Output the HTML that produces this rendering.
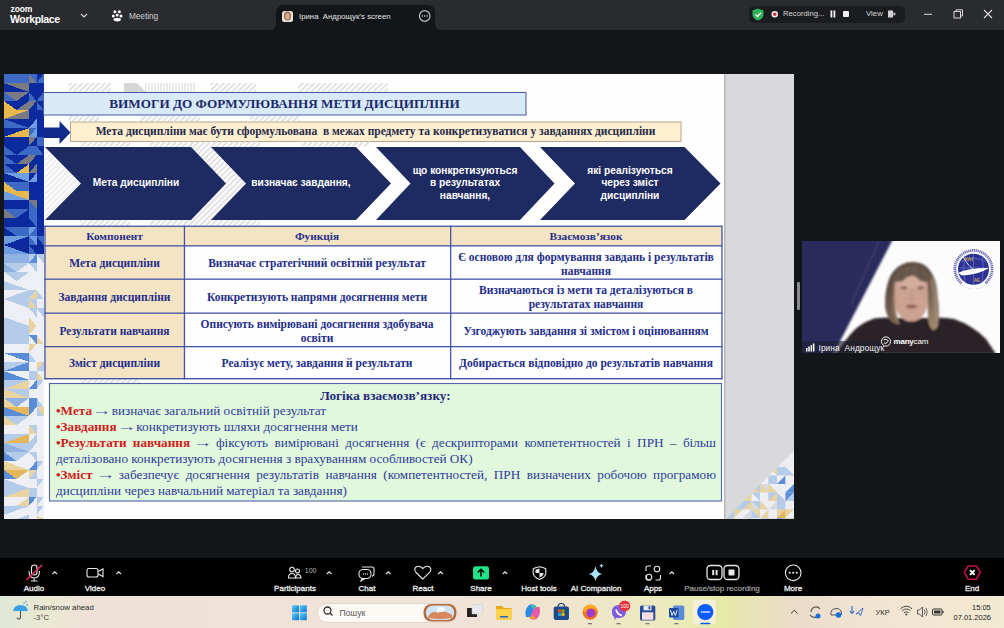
<!DOCTYPE html>
<html><head><meta charset="utf-8">
<style>
*{margin:0;padding:0;box-sizing:border-box}
html,body{width:1004px;height:628px;overflow:hidden;background:#131619;font-family:"Liberation Sans",sans-serif;position:relative}
.a{position:absolute;white-space:nowrap}
.sr{font-family:"Liberation Serif",serif}
.c{text-align:center}
.ar{display:inline-block;transform:scaleX(1.45);font-weight:bold}
.tb{color:#f0f0f0;font-weight:normal;font-size:8px;text-align:center;-webkit-text-stroke:0.3px #e8e8e8}
</style></head><body>
<!-- top bar -->
<div class="a" style="left:0;top:0;width:1004px;height:30px;background:#2a2b2e"></div>
<div class="a" style="left:270px;top:24px;width:6px;height:6px;background:#131619"></div>
<div class="a" style="left:270px;top:24px;width:6px;height:6px;background:#2a2b2e;border-bottom-right-radius:6px"></div>
<div class="a" style="left:435px;top:24px;width:6px;height:6px;background:#131619"></div>
<div class="a" style="left:435px;top:24px;width:6px;height:6px;background:#2a2b2e;border-bottom-left-radius:6px"></div>
<div class="a" style="left:276px;top:5px;width:159px;height:25px;background:#131619;border-radius:7px 7px 0 0"></div>
<div class="a" style="left:10.5px;top:4.8px;font-size:8.5px;color:#fff;line-height:8.5px;font-weight:bold;letter-spacing:-0.1px">zoom</div>
<div class="a" style="left:10px;top:12.6px;font-size:10.5px;color:#fff;line-height:13px;font-weight:bold;letter-spacing:-0.35px">Workplace</div>
<div class="a" style="left:129px;top:12px;font-size:8.2px;color:#cfd0d2;line-height:10px">Meeting</div>
<div class="a" style="left:299px;top:11.5px;font-size:7.8px;color:#e4e4e6;line-height:10px">Ірина&nbsp; Андрощук’s screen</div>
<div class="a" style="left:749px;top:6px;width:156px;height:17px;background:#1a1c1f;border-radius:5px"></div>
<div class="a" style="left:783px;top:9px;font-size:7.7px;color:#d6d6d8;line-height:10px">Recording...</div>
<div class="a" style="left:866px;top:9px;font-size:7.8px;color:#d6d6d8;line-height:10px">View</div>
<svg class="a" style="left:0;top:0" width="1004" height="29">
  <!-- chevron -->
  <path d="M81 14 L84 17 L87 14" stroke="#d8d8d8" stroke-width="1.1" fill="none"/>
  <!-- meeting paw icon -->
  <circle cx="114.9" cy="11.7" r="1.5" fill="#fff"/><circle cx="119.4" cy="11.7" r="1.5" fill="#fff"/>
  <circle cx="113.3" cy="16" r="1.5" fill="#fff"/><circle cx="117.2" cy="14.9" r="1.5" fill="#fff"/><circle cx="121" cy="16" r="1.5" fill="#fff"/>
  <ellipse cx="117.2" cy="19.6" rx="3.7" ry="1.8" fill="#fff"/>
  <!-- avatar -->
  <rect x="282" y="11" width="11" height="11" rx="2.5" fill="#e8e4e0"/>
  <ellipse cx="287.5" cy="16" rx="3.6" ry="4.5" fill="#9a6a50"/>
  <ellipse cx="287.5" cy="16.3" rx="2.3" ry="3.2" fill="#d8a890"/>
  <!-- ellipsis circle -->
  <circle cx="424.7" cy="16" r="5.3" stroke="#bdbdbd" stroke-width="1.2" fill="none"/>
  <circle cx="422.3" cy="16" r="0.8" fill="#ccc"/><circle cx="424.7" cy="16" r="0.8" fill="#ccc"/><circle cx="427.1" cy="16" r="0.8" fill="#ccc"/>
  <!-- green shield -->
  <path d="M758 8.5 L763.5 10.5 L763.5 14.5 Q763.5 18.5 758 20.5 Q752.5 18.5 752.5 14.5 L752.5 10.5 Z" fill="#2fb35a"/>
  <path d="M755.5 14.5 L757.5 16.5 L761 12.8" stroke="#fff" stroke-width="1.3" fill="none"/>
  <!-- rec dot -->
  <circle cx="774.7" cy="14.2" r="3.2" fill="#f2f2f2"/><circle cx="774.7" cy="14.2" r="1.7" fill="#e0243a"/>
  <rect x="830.5" y="10.5" width="1.8" height="7" fill="#f0f0f0"/><rect x="833.5" y="10.5" width="1.8" height="7" fill="#f0f0f0"/>
  <rect x="843" y="11" width="6" height="6" rx="1" fill="#f0f0f0"/>
  <!-- view icon -->
  <rect x="888" y="10.5" width="5" height="7" fill="#d0d0d0"/><path d="M893.5 12 L896 14 L893.5 16 Z" fill="#d0d0d0"/>
  <!-- window controls -->
  <rect x="924" y="13.8" width="8" height="1" fill="#d8d8d8"/>
  <rect x="954" y="11.5" width="6.5" height="6.5" stroke="#d8d8d8" stroke-width="1" fill="none"/>
  <path d="M956 11.5 V9.8 H962.5 V16 H960.5" stroke="#d8d8d8" stroke-width="1" fill="none"/>
  <path d="M984 10 L992 18 M992 10 L984 18" stroke="#d8d8d8" stroke-width="1.1"/>
</svg>

<!-- slide -->
<svg class="a" style="left:0;top:0" width="1004" height="628">
  <defs><clipPath id="brc"><polygon points="726,519 794,450.7 794,519"/></clipPath>
  <pattern id="hatch" width="4" height="4" patternUnits="userSpaceOnUse" patternTransform="rotate(45)"><rect width="2" height="4" fill="#e2e2e6"/></pattern></defs>
  <rect x="4" y="74" width="790" height="445" fill="#fefefe"/>
  <rect x="724" y="74" width="70" height="445" fill="#d9d9dc"/>
  <rect x="724" y="74" width="1.5" height="445" fill="#b8b8bb"/>
  <rect x="4" y="74" width="39.5" height="182" fill="#0b2a9e"/>
  <rect x="4" y="256" width="39.5" height="263" fill="#eeeff4"/>
  <g shape-rendering="crispEdges"><polygon points="4,74 29,74 4,83" fill="#3b69c4"/><polygon points="29,74 29,83 4,83" fill="#3b69c4"/>
<polygon points="29,74 36.5,74 36.5,83" fill="#3b69c4"/><polygon points="29,74 36.5,83 29,83" fill="#7a7a84"/>
<polygon points="36.5,74 43.5,74 36.5,83" fill="#0b2a9e"/><polygon points="43.5,74 43.5,83 36.5,83" fill="#3b69c4"/>
<polygon points="4,83 29,83 29,92" fill="#7a7a84"/><polygon points="4,83 29,92 4,92" fill="#0b2a9e"/>
<polygon points="29,83 36.5,83 29,92" fill="#0b2a9e"/><polygon points="36.5,83 36.5,92 29,92" fill="#0b2a9e"/>
<polygon points="36.5,83 43.5,83 43.5,92" fill="#0b2a9e"/><polygon points="36.5,83 43.5,92 36.5,92" fill="#0b2a9e"/>
<polygon points="4,92 29,92 16.5,101" fill="#7a7a84"/><polygon points="4,92 16.5,101 4,101" fill="#3b69c4"/><polygon points="29,92 29,101 16.5,101" fill="#0b2a9e"/>
<polygon points="29,92 36.5,92 36.5,101" fill="#0b2a9e"/><polygon points="29,92 36.5,101 29,101" fill="#3b69c4"/>
<polygon points="36.5,92 43.5,92 36.5,101" fill="#0b2a9e"/><polygon points="43.5,92 43.5,101 36.5,101" fill="#3b69c4"/>
<polygon points="4,101 29,101 16.5,110" fill="#0b2a9e"/><polygon points="4,101 16.5,110 4,110" fill="#e6b84e"/><polygon points="29,101 29,110 16.5,110" fill="#7a7a84"/>
<polygon points="29,101 36.5,101 29,110" fill="#7a7a84"/><polygon points="36.5,101 36.5,110 29,110" fill="#0b2a9e"/>
<polygon points="36.5,101 43.5,101 43.5,110" fill="#0b2a9e"/><polygon points="36.5,101 43.5,110 36.5,110" fill="#3b69c4"/>
<polygon points="4,110 29,110 4,119" fill="#e6b84e"/><polygon points="29,110 29,119 4,119" fill="#7a7a84"/>
<polygon points="29,110 36.5,110 29,119" fill="#0b2a9e"/><polygon points="36.5,110 36.5,119 29,119" fill="#0b2a9e"/>
<polygon points="36.5,110 43.5,110 36.5,119" fill="#0b2a9e"/><polygon points="43.5,110 43.5,119 36.5,119" fill="#0b2a9e"/>
<polygon points="4,119 29,119 29,128" fill="#0b2a9e"/><polygon points="4,119 29,128 4,128" fill="#3b69c4"/>
<polygon points="29,119 36.5,119 29,128" fill="#0b2a9e"/><polygon points="36.5,119 36.5,128 29,128" fill="#6e9ee0"/>
<polygon points="36.5,119 43.5,119 36.5,128" fill="#0b2a9e"/><polygon points="43.5,119 43.5,128 36.5,128" fill="#0b2a9e"/>
<polygon points="4,128 29,128 4,137" fill="#0b2a9e"/><polygon points="29,128 29,137 4,137" fill="#e6b84e"/>
<polygon points="29,128 36.5,128 29,137" fill="#3b69c4"/><polygon points="36.5,128 36.5,137 29,137" fill="#6e9ee0"/>
<polygon points="36.5,128 43.5,128 36.5,137" fill="#0b2a9e"/><polygon points="43.5,128 43.5,137 36.5,137" fill="#0b2a9e"/>
<polygon points="4,137 29,137 29,146" fill="#0b2a9e"/><polygon points="4,137 29,146 4,146" fill="#0b2a9e"/>
<polygon points="29,137 36.5,137 29,146" fill="#7a7a84"/><polygon points="36.5,137 36.5,146 29,146" fill="#0b2a9e"/>
<polygon points="36.5,137 43.5,137 43.5,146" fill="#3b69c4"/><polygon points="36.5,137 43.5,146 36.5,146" fill="#3b69c4"/>
<polygon points="4,146 29,146 16.5,155" fill="#0b2a9e"/><polygon points="4,146 16.5,155 4,155" fill="#3b69c4"/><polygon points="29,146 29,155 16.5,155" fill="#3b69c4"/>
<polygon points="29,146 36.5,146 29,155" fill="#3b69c4"/><polygon points="36.5,146 36.5,155 29,155" fill="#3b69c4"/>
<polygon points="36.5,146 43.5,146 43.5,155" fill="#0b2a9e"/><polygon points="36.5,146 43.5,155 36.5,155" fill="#3b69c4"/>
<polygon points="4,155 29,155 16.5,164" fill="#0b2a9e"/><polygon points="4,155 16.5,164 4,164" fill="#3b69c4"/><polygon points="29,155 29,164 16.5,164" fill="#7a7a84"/>
<polygon points="29,155 36.5,155 29,164" fill="#7a7a84"/><polygon points="36.5,155 36.5,164 29,164" fill="#0b2a9e"/>
<polygon points="36.5,155 43.5,155 36.5,164" fill="#0b2a9e"/><polygon points="43.5,155 43.5,164 36.5,164" fill="#0b2a9e"/>
<polygon points="4,164 29,164 16.5,173" fill="#0b2a9e"/><polygon points="4,164 16.5,173 4,173" fill="#3b69c4"/><polygon points="29,164 29,173 16.5,173" fill="#e6b84e"/>
<polygon points="29,164 36.5,164 29,173" fill="#0b2a9e"/><polygon points="36.5,164 36.5,173 29,173" fill="#7a7a84"/>
<polygon points="36.5,164 43.5,164 43.5,173" fill="#0b2a9e"/><polygon points="36.5,164 43.5,173 36.5,173" fill="#0b2a9e"/>
<polygon points="4,173 29,173 29,182" fill="#6e9ee0"/><polygon points="4,173 29,182 4,182" fill="#0b2a9e"/>
<polygon points="29,173 36.5,173 29,182" fill="#0b2a9e"/><polygon points="36.5,173 36.5,182 29,182" fill="#6e9ee0"/>
<polygon points="36.5,173 43.5,173 36.5,182" fill="#0b2a9e"/><polygon points="43.5,173 43.5,182 36.5,182" fill="#0b2a9e"/>
<polygon points="4,182 29,182 16.5,191" fill="#3b69c4"/><polygon points="4,182 16.5,191 4,191" fill="#e6b84e"/><polygon points="29,182 29,191 16.5,191" fill="#3b69c4"/>
<polygon points="29,182 36.5,182 36.5,191" fill="#0b2a9e"/><polygon points="29,182 36.5,191 29,191" fill="#0b2a9e"/>
<polygon points="36.5,182 43.5,182 36.5,191" fill="#0b2a9e"/><polygon points="43.5,182 43.5,191 36.5,191" fill="#0b2a9e"/>
<polygon points="4,191 29,191 29,200" fill="#e6b84e"/><polygon points="4,191 29,200 4,200" fill="#6e9ee0"/>
<polygon points="29,191 36.5,191 36.5,200" fill="#0b2a9e"/><polygon points="29,191 36.5,200 29,200" fill="#0b2a9e"/>
<polygon points="36.5,191 43.5,191 43.5,200" fill="#0b2a9e"/><polygon points="36.5,191 43.5,200 36.5,200" fill="#0b2a9e"/>
<polygon points="4,200 29,200 4,209" fill="#0b2a9e"/><polygon points="29,200 29,209 4,209" fill="#0b2a9e"/>
<polygon points="29,200 36.5,200 36.5,209" fill="#7a7a84"/><polygon points="29,200 36.5,209 29,209" fill="#3b69c4"/>
<polygon points="36.5,200 43.5,200 36.5,209" fill="#0b2a9e"/><polygon points="43.5,200 43.5,209 36.5,209" fill="#0b2a9e"/>
<polygon points="4,209 29,209 16.5,218" fill="#3b69c4"/><polygon points="4,209 16.5,218 4,218" fill="#7a7a84"/><polygon points="29,209 29,218 16.5,218" fill="#0b2a9e"/>
<polygon points="29,209 36.5,209 36.5,218" fill="#3b69c4"/><polygon points="29,209 36.5,218 29,218" fill="#3b69c4"/>
<polygon points="36.5,209 43.5,209 43.5,218" fill="#0b2a9e"/><polygon points="36.5,209 43.5,218 36.5,218" fill="#0b2a9e"/>
<polygon points="4,218 29,218 4,227" fill="#0b2a9e"/><polygon points="29,218 29,227 4,227" fill="#0b2a9e"/>
<polygon points="29,218 36.5,218 36.5,227" fill="#3b69c4"/><polygon points="29,218 36.5,227 29,227" fill="#0b2a9e"/>
<polygon points="36.5,218 43.5,218 43.5,227" fill="#0b2a9e"/><polygon points="36.5,218 43.5,227 36.5,227" fill="#0b2a9e"/>
<polygon points="4,227 29,227 16.5,236" fill="#3b69c4"/><polygon points="4,227 16.5,236 4,236" fill="#0b2a9e"/><polygon points="29,227 29,236 16.5,236" fill="#3b69c4"/>
<polygon points="29,227 36.5,227 29,236" fill="#6e9ee0"/><polygon points="36.5,227 36.5,236 29,236" fill="#3b69c4"/>
<polygon points="36.5,227 43.5,227 43.5,236" fill="#0b2a9e"/><polygon points="36.5,227 43.5,236 36.5,236" fill="#0b2a9e"/>
<polygon points="4,236 29,236 4,245" fill="#6e9ee0"/><polygon points="29,236 29,245 4,245" fill="#0b2a9e"/>
<polygon points="29,236 36.5,236 36.5,245" fill="#6e9ee0"/><polygon points="29,236 36.5,245 29,245" fill="#3b69c4"/>
<polygon points="36.5,236 43.5,236 43.5,245" fill="#3b69c4"/><polygon points="36.5,236 43.5,245 36.5,245" fill="#0b2a9e"/>
<polygon points="4,245 29,245 29,254" fill="#0b2a9e"/><polygon points="4,245 29,254 4,254" fill="#6e9ee0"/>
<polygon points="29,245 36.5,245 36.5,254" fill="#0b2a9e"/><polygon points="29,245 36.5,254 29,254" fill="#3b69c4"/>
<polygon points="36.5,245 43.5,245 43.5,254" fill="#0b2a9e"/><polygon points="36.5,245 43.5,254 36.5,254" fill="#0b2a9e"/>
<polygon points="4,254 29,254 4,263" fill="#8fb2e3"/><polygon points="29,254 29,263 4,263" fill="#8fb2e3"/>
<polygon points="29,254 36.5,254 29,263" fill="#b4cbea"/><polygon points="36.5,254 36.5,263 29,263" fill="#5a8dd8"/>
<polygon points="36.5,254 43.5,254 43.5,263" fill="#b4cbea"/><polygon points="36.5,254 43.5,263 36.5,263" fill="#eeeff4"/>
<polygon points="4,263 29,263 16.5,272" fill="#b4cbea"/><polygon points="4,263 16.5,272 4,272" fill="#8fb2e3"/><polygon points="29,263 29,272 16.5,272" fill="#eeeff4"/>
<polygon points="29,263 36.5,263 36.5,272" fill="#b4cbea"/><polygon points="29,263 36.5,272 29,272" fill="#eeeff4"/>
<polygon points="36.5,263 43.5,263 36.5,272" fill="#eeeff4"/><polygon points="43.5,263 43.5,272 36.5,272" fill="#eeeff4"/>
<polygon points="4,272 29,272 16.5,281" fill="#b4cbea"/><polygon points="4,272 16.5,281 4,281" fill="#eeeff4"/><polygon points="29,272 29,281 16.5,281" fill="#eeeff4"/>
<polygon points="29,272 36.5,272 29,281" fill="#eeeff4"/><polygon points="36.5,272 36.5,281 29,281" fill="#eeeff4"/>
<polygon points="36.5,272 43.5,272 43.5,281" fill="#eeeff4"/><polygon points="36.5,272 43.5,281 36.5,281" fill="#eeeff4"/>
<polygon points="4,281 29,281 29,290" fill="#eeeff4"/><polygon points="4,281 29,290 4,290" fill="#b4cbea"/>
<polygon points="29,281 36.5,281 29,290" fill="#eeeff4"/><polygon points="36.5,281 36.5,290 29,290" fill="#eeeff4"/>
<polygon points="36.5,281 43.5,281 43.5,290" fill="#eeeff4"/><polygon points="36.5,281 43.5,290 36.5,290" fill="#eeeff4"/>
<polygon points="4,290 29,290 4,299" fill="#eeeff4"/><polygon points="29,290 29,299 4,299" fill="#b4cbea"/>
<polygon points="29,290 36.5,290 29,299" fill="#b4cbea"/><polygon points="36.5,290 36.5,299 29,299" fill="#e9d39e"/>
<polygon points="36.5,290 43.5,290 43.5,299" fill="#eeeff4"/><polygon points="36.5,290 43.5,299 36.5,299" fill="#b4cbea"/>
<polygon points="4,299 29,299 29,308" fill="#b4cbea"/><polygon points="4,299 29,308 4,308" fill="#eeeff4"/>
<polygon points="29,299 36.5,299 36.5,308" fill="#b4cbea"/><polygon points="29,299 36.5,308 29,308" fill="#e9d39e"/>
<polygon points="36.5,299 43.5,299 43.5,308" fill="#eeeff4"/><polygon points="36.5,299 43.5,308 36.5,308" fill="#eeeff4"/>
<polygon points="4,308 29,308 4,317" fill="#eeeff4"/><polygon points="29,308 29,317 4,317" fill="#eeeff4"/>
<polygon points="29,308 36.5,308 36.5,317" fill="#b4cbea"/><polygon points="29,308 36.5,317 29,317" fill="#eeeff4"/>
<polygon points="36.5,308 43.5,308 43.5,317" fill="#b4cbea"/><polygon points="36.5,308 43.5,317 36.5,317" fill="#eeeff4"/>
<polygon points="4,317 29,317 29,326" fill="#eeeff4"/><polygon points="4,317 29,326 4,326" fill="#b4cbea"/>
<polygon points="29,317 36.5,317 36.5,326" fill="#eeeff4"/><polygon points="29,317 36.5,326 29,326" fill="#e9d39e"/>
<polygon points="36.5,317 43.5,317 43.5,326" fill="#eeeff4"/><polygon points="36.5,317 43.5,326 36.5,326" fill="#eeeff4"/>
<polygon points="4,326 29,326 4,335" fill="#b4cbea"/><polygon points="29,326 29,335 4,335" fill="#b4cbea"/>
<polygon points="29,326 36.5,326 29,335" fill="#e9d39e"/><polygon points="36.5,326 36.5,335 29,335" fill="#eeeff4"/>
<polygon points="36.5,326 43.5,326 36.5,335" fill="#eeeff4"/><polygon points="43.5,326 43.5,335 36.5,335" fill="#eeeff4"/>
<polygon points="4,335 29,335 29,344" fill="#b4cbea"/><polygon points="4,335 29,344 4,344" fill="#b4cbea"/>
<polygon points="29,335 36.5,335 36.5,344" fill="#5a8dd8"/><polygon points="29,335 36.5,344 29,344" fill="#eeeff4"/>
<polygon points="36.5,335 43.5,335 43.5,344" fill="#eeeff4"/><polygon points="36.5,335 43.5,344 36.5,344" fill="#e9d39e"/>
<polygon points="4,344 29,344 4,353" fill="#eeeff4"/><polygon points="29,344 29,353 4,353" fill="#eeeff4"/>
<polygon points="29,344 36.5,344 29,353" fill="#e9d39e"/><polygon points="36.5,344 36.5,353 29,353" fill="#eeeff4"/>
<polygon points="36.5,344 43.5,344 43.5,353" fill="#eeeff4"/><polygon points="36.5,344 43.5,353 36.5,353" fill="#eeeff4"/>
<polygon points="4,353 29,353 29,362" fill="#5a8dd8"/><polygon points="4,353 29,362 4,362" fill="#eeeff4"/>
<polygon points="29,353 36.5,353 36.5,362" fill="#eeeff4"/><polygon points="29,353 36.5,362 29,362" fill="#b4cbea"/>
<polygon points="36.5,353 43.5,353 36.5,362" fill="#eeeff4"/><polygon points="43.5,353 43.5,362 36.5,362" fill="#eeeff4"/>
<polygon points="4,362 29,362 4,371" fill="#b4cbea"/><polygon points="29,362 29,371 4,371" fill="#5a8dd8"/>
<polygon points="29,362 36.5,362 36.5,371" fill="#eeeff4"/><polygon points="29,362 36.5,371 29,371" fill="#eeeff4"/>
<polygon points="36.5,362 43.5,362 36.5,371" fill="#e9d39e"/><polygon points="43.5,362 43.5,371 36.5,371" fill="#b4cbea"/>
<polygon points="4,371 29,371 29,380" fill="#eeeff4"/><polygon points="4,371 29,380 4,380" fill="#5a8dd8"/>
<polygon points="29,371 36.5,371 29,380" fill="#b4cbea"/><polygon points="36.5,371 36.5,380 29,380" fill="#b4cbea"/>
<polygon points="36.5,371 43.5,371 43.5,380" fill="#eeeff4"/><polygon points="36.5,371 43.5,380 36.5,380" fill="#e9d39e"/>
<polygon points="4,380 29,380 4,389" fill="#b4cbea"/><polygon points="29,380 29,389 4,389" fill="#e9d39e"/>
<polygon points="29,380 36.5,380 29,389" fill="#eeeff4"/><polygon points="36.5,380 36.5,389 29,389" fill="#5a8dd8"/>
<polygon points="36.5,380 43.5,380 36.5,389" fill="#b4cbea"/><polygon points="43.5,380 43.5,389 36.5,389" fill="#eeeff4"/>
<polygon points="4,389 29,389 29,398" fill="#b4cbea"/><polygon points="4,389 29,398 4,398" fill="#e9d39e"/>
<polygon points="29,389 36.5,389 36.5,398" fill="#eeeff4"/><polygon points="29,389 36.5,398 29,398" fill="#eeeff4"/>
<polygon points="36.5,389 43.5,389 43.5,398" fill="#eeeff4"/><polygon points="36.5,389 43.5,398 36.5,398" fill="#eeeff4"/>
<polygon points="4,398 29,398 16.5,407" fill="#8fb2e3"/><polygon points="4,398 16.5,407 4,407" fill="#e9d39e"/><polygon points="29,398 29,407 16.5,407" fill="#eeeff4"/>
<polygon points="29,398 36.5,398 29,407" fill="#5a8dd8"/><polygon points="36.5,398 36.5,407 29,407" fill="#5a8dd8"/>
<polygon points="36.5,398 43.5,398 43.5,407" fill="#eeeff4"/><polygon points="36.5,398 43.5,407 36.5,407" fill="#b4cbea"/>
<polygon points="4,407 29,407 29,416" fill="#e6b65a"/><polygon points="4,407 29,416 4,416" fill="#5a8dd8"/>
<polygon points="29,407 36.5,407 29,416" fill="#5a8dd8"/><polygon points="36.5,407 36.5,416 29,416" fill="#eeeff4"/>
<polygon points="36.5,407 43.5,407 43.5,416" fill="#e9d39e"/><polygon points="36.5,407 43.5,416 36.5,416" fill="#b4cbea"/>
<polygon points="4,416 29,416 16.5,425" fill="#b4cbea"/><polygon points="4,416 16.5,425 4,425" fill="#e9d39e"/><polygon points="29,416 29,425 16.5,425" fill="#eeeff4"/>
<polygon points="29,416 36.5,416 36.5,425" fill="#eeeff4"/><polygon points="29,416 36.5,425 29,425" fill="#eeeff4"/>
<polygon points="36.5,416 43.5,416 43.5,425" fill="#eeeff4"/><polygon points="36.5,416 43.5,425 36.5,425" fill="#eeeff4"/>
<polygon points="4,425 29,425 29,434" fill="#eeeff4"/><polygon points="4,425 29,434 4,434" fill="#eeeff4"/>
<polygon points="29,425 36.5,425 36.5,434" fill="#b4cbea"/><polygon points="29,425 36.5,434 29,434" fill="#e9d39e"/>
<polygon points="36.5,425 43.5,425 36.5,434" fill="#eeeff4"/><polygon points="43.5,425 43.5,434 36.5,434" fill="#eeeff4"/>
<polygon points="4,434 29,434 4,443" fill="#b4cbea"/><polygon points="29,434 29,443 4,443" fill="#e6b65a"/>
<polygon points="29,434 36.5,434 29,443" fill="#eeeff4"/><polygon points="36.5,434 36.5,443 29,443" fill="#b4cbea"/>
<polygon points="36.5,434 43.5,434 36.5,443" fill="#eeeff4"/><polygon points="43.5,434 43.5,443 36.5,443" fill="#eeeff4"/>
<polygon points="4,443 29,443 29,452" fill="#b4cbea"/><polygon points="4,443 29,452 4,452" fill="#8fb2e3"/>
<polygon points="29,443 36.5,443 29,452" fill="#b4cbea"/><polygon points="36.5,443 36.5,452 29,452" fill="#eeeff4"/>
<polygon points="36.5,443 43.5,443 43.5,452" fill="#eeeff4"/><polygon points="36.5,443 43.5,452 36.5,452" fill="#eeeff4"/>
<polygon points="4,452 29,452 16.5,461" fill="#b4cbea"/><polygon points="4,452 16.5,461 4,461" fill="#5a8dd8"/><polygon points="29,452 29,461 16.5,461" fill="#eeeff4"/>
<polygon points="29,452 36.5,452 36.5,461" fill="#b4cbea"/><polygon points="29,452 36.5,461 29,461" fill="#eeeff4"/>
<polygon points="36.5,452 43.5,452 43.5,461" fill="#eeeff4"/><polygon points="36.5,452 43.5,461 36.5,461" fill="#eeeff4"/>
<polygon points="4,461 29,461 29,470" fill="#eeeff4"/><polygon points="4,461 29,470 4,470" fill="#e9d39e"/>
<polygon points="29,461 36.5,461 29,470" fill="#eeeff4"/><polygon points="36.5,461 36.5,470 29,470" fill="#5a8dd8"/>
<polygon points="36.5,461 43.5,461 36.5,470" fill="#b4cbea"/><polygon points="43.5,461 43.5,470 36.5,470" fill="#eeeff4"/>
<polygon points="4,470 29,470 16.5,479" fill="#e6b65a"/><polygon points="4,470 16.5,479 4,479" fill="#5a8dd8"/><polygon points="29,470 29,479 16.5,479" fill="#eeeff4"/>
<polygon points="29,470 36.5,470 29,479" fill="#e9d39e"/><polygon points="36.5,470 36.5,479 29,479" fill="#b4cbea"/>
<polygon points="36.5,470 43.5,470 43.5,479" fill="#eeeff4"/><polygon points="36.5,470 43.5,479 36.5,479" fill="#eeeff4"/>
<polygon points="4,479 29,479 29,488" fill="#eeeff4"/><polygon points="4,479 29,488 4,488" fill="#b4cbea"/>
<polygon points="29,479 36.5,479 36.5,488" fill="#eeeff4"/><polygon points="29,479 36.5,488 29,488" fill="#eeeff4"/>
<polygon points="36.5,479 43.5,479 36.5,488" fill="#b4cbea"/><polygon points="43.5,479 43.5,488 36.5,488" fill="#eeeff4"/>
<polygon points="4,488 29,488 4,497" fill="#b4cbea"/><polygon points="29,488 29,497 4,497" fill="#e9d39e"/>
<polygon points="29,488 36.5,488 36.5,497" fill="#b4cbea"/><polygon points="29,488 36.5,497 29,497" fill="#b4cbea"/>
<polygon points="36.5,488 43.5,488 43.5,497" fill="#eeeff4"/><polygon points="36.5,488 43.5,497 36.5,497" fill="#eeeff4"/>
<polygon points="4,497 29,497 16.5,506" fill="#eeeff4"/><polygon points="4,497 16.5,506 4,506" fill="#eeeff4"/><polygon points="29,497 29,506 16.5,506" fill="#e9d39e"/>
<polygon points="29,497 36.5,497 29,506" fill="#5a8dd8"/><polygon points="36.5,497 36.5,506 29,506" fill="#eeeff4"/>
<polygon points="36.5,497 43.5,497 36.5,506" fill="#b4cbea"/><polygon points="43.5,497 43.5,506 36.5,506" fill="#eeeff4"/>
<polygon points="4,506 29,506 4,515" fill="#b4cbea"/><polygon points="29,506 29,515 4,515" fill="#eeeff4"/>
<polygon points="29,506 36.5,506 29,515" fill="#eeeff4"/><polygon points="36.5,506 36.5,515 29,515" fill="#eeeff4"/>
<polygon points="36.5,506 43.5,506 36.5,515" fill="#b4cbea"/><polygon points="43.5,506 43.5,515 36.5,515" fill="#eeeff4"/>
<polygon points="4,515 29,515 16.5,519" fill="#eeeff4"/><polygon points="4,515 16.5,519 4,519" fill="#eeeff4"/><polygon points="29,515 29,519 16.5,519" fill="#b4cbea"/>
<polygon points="29,515 36.5,515 29,519" fill="#eeeff4"/><polygon points="36.5,515 36.5,519 29,519" fill="#eeeff4"/>
<polygon points="36.5,515 43.5,515 43.5,519" fill="#eeeff4"/><polygon points="36.5,515 43.5,519 36.5,519" fill="#e9d39e"/></g>
  <g fill="url(#hatch)">
    <rect x="69" y="83" width="42" height="9"/><rect x="211" y="83" width="45" height="9"/><rect x="298" y="83" width="90" height="9"/>
    <rect x="69" y="116" width="30" height="5"/><rect x="140" y="116" width="60" height="5"/><rect x="250" y="116" width="50" height="5"/>
    <rect x="80" y="141.5" width="50" height="5"/>
    <rect x="80" y="220" width="50" height="6"/>
    <rect x="80" y="379" width="60" height="4.5"/>
  </g>
  <path d="M124 83 H137 L146 92 H124 Z" fill="#d6d6d9"/>
  <g stroke="#dcdcdf" stroke-width="1.2"><path d="M146 83 V92 M149 83 V92 M152 83 V92 M155 83 V92 M158 83 V92 M161 83 V92 M164 83 V92 M167 83 V92 M170 83 V92 M173 83 V92 M176 83 V92 M179 83 V92 M182 83 V92 M185 83 V92 M188 83 V92 M191 83 V92 M194 83 V92"/></g>
  
  <g clip-path="url(#brc)"><polygon points="726,450 734.5,450 734.5,458.5" fill="#5a8dd8"/><polygon points="726,450 734.5,458.5 726,458.5" fill="#b4cbea"/>
<polygon points="734.5,450 743.0,450 743.0,458.5" fill="#eeeff4"/><polygon points="734.5,450 743.0,458.5 734.5,458.5" fill="#5a8dd8"/>
<polygon points="743.0,450 751.5,450 743.0,458.5" fill="#5a8dd8"/><polygon points="751.5,450 751.5,458.5 743.0,458.5" fill="#e9d39e"/>
<polygon points="751.5,450 760.0,450 751.5,458.5" fill="#eeeff4"/><polygon points="760.0,450 760.0,458.5 751.5,458.5" fill="#eeeff4"/>
<polygon points="760.0,450 768.5,450 760.0,458.5" fill="#eeeff4"/><polygon points="768.5,450 768.5,458.5 760.0,458.5" fill="#b4cbea"/>
<polygon points="768.5,450 777.0,450 777.0,458.5" fill="#eeeff4"/><polygon points="768.5,450 777.0,458.5 768.5,458.5" fill="#eeeff4"/>
<polygon points="777.0,450 785.5,450 777.0,458.5" fill="#eeeff4"/><polygon points="785.5,450 785.5,458.5 777.0,458.5" fill="#e9d39e"/>
<polygon points="785.5,450 794.0,450 794.0,458.5" fill="#eeeff4"/><polygon points="785.5,450 794.0,458.5 785.5,458.5" fill="#eeeff4"/>
<polygon points="726,458.5 734.5,458.5 734.5,467.0" fill="#d9d9dc"/><polygon points="726,458.5 734.5,467.0 726,467.0" fill="#b4cbea"/>
<polygon points="734.5,458.5 743.0,458.5 734.5,467.0" fill="#d9d9dc"/><polygon points="743.0,458.5 743.0,467.0 734.5,467.0" fill="#eeeff4"/>
<polygon points="743.0,458.5 751.5,458.5 743.0,467.0" fill="#e9d39e"/><polygon points="751.5,458.5 751.5,467.0 743.0,467.0" fill="#b4cbea"/>
<polygon points="751.5,458.5 760.0,458.5 751.5,467.0" fill="#b4cbea"/><polygon points="760.0,458.5 760.0,467.0 751.5,467.0" fill="#d9d9dc"/>
<polygon points="760.0,458.5 768.5,458.5 768.5,467.0" fill="#eeeff4"/><polygon points="760.0,458.5 768.5,467.0 760.0,467.0" fill="#eeeff4"/>
<polygon points="768.5,458.5 777.0,458.5 768.5,467.0" fill="#e6b65a"/><polygon points="777.0,458.5 777.0,467.0 768.5,467.0" fill="#b4cbea"/>
<polygon points="777.0,458.5 785.5,458.5 785.5,467.0" fill="#eeeff4"/><polygon points="777.0,458.5 785.5,467.0 777.0,467.0" fill="#eeeff4"/>
<polygon points="785.5,458.5 794.0,458.5 785.5,467.0" fill="#eeeff4"/><polygon points="794.0,458.5 794.0,467.0 785.5,467.0" fill="#eeeff4"/>
<polygon points="726,467.0 734.5,467.0 726,475.5" fill="#b4cbea"/><polygon points="734.5,467.0 734.5,475.5 726,475.5" fill="#eeeff4"/>
<polygon points="734.5,467.0 743.0,467.0 734.5,475.5" fill="#eeeff4"/><polygon points="743.0,467.0 743.0,475.5 734.5,475.5" fill="#d9d9dc"/>
<polygon points="743.0,467.0 751.5,467.0 743.0,475.5" fill="#b4cbea"/><polygon points="751.5,467.0 751.5,475.5 743.0,475.5" fill="#b4cbea"/>
<polygon points="751.5,467.0 760.0,467.0 760.0,475.5" fill="#eeeff4"/><polygon points="751.5,467.0 760.0,475.5 751.5,475.5" fill="#eeeff4"/>
<polygon points="760.0,467.0 768.5,467.0 760.0,475.5" fill="#b4cbea"/><polygon points="768.5,467.0 768.5,475.5 760.0,475.5" fill="#d9d9dc"/>
<polygon points="768.5,467.0 777.0,467.0 777.0,475.5" fill="#e9d39e"/><polygon points="768.5,467.0 777.0,475.5 768.5,475.5" fill="#eeeff4"/>
<polygon points="777.0,467.0 785.5,467.0 777.0,475.5" fill="#b4cbea"/><polygon points="785.5,467.0 785.5,475.5 777.0,475.5" fill="#b4cbea"/>
<polygon points="785.5,467.0 794.0,467.0 794.0,475.5" fill="#eeeff4"/><polygon points="785.5,467.0 794.0,475.5 785.5,475.5" fill="#b4cbea"/>
<polygon points="726,475.5 734.5,475.5 734.5,484.0" fill="#d9d9dc"/><polygon points="726,475.5 734.5,484.0 726,484.0" fill="#eeeff4"/>
<polygon points="734.5,475.5 743.0,475.5 734.5,484.0" fill="#e9d39e"/><polygon points="743.0,475.5 743.0,484.0 734.5,484.0" fill="#eeeff4"/>
<polygon points="743.0,475.5 751.5,475.5 743.0,484.0" fill="#eeeff4"/><polygon points="751.5,475.5 751.5,484.0 743.0,484.0" fill="#eeeff4"/>
<polygon points="751.5,475.5 760.0,475.5 760.0,484.0" fill="#e9d39e"/><polygon points="751.5,475.5 760.0,484.0 751.5,484.0" fill="#eeeff4"/>
<polygon points="760.0,475.5 768.5,475.5 760.0,484.0" fill="#eeeff4"/><polygon points="768.5,475.5 768.5,484.0 760.0,484.0" fill="#eeeff4"/>
<polygon points="768.5,475.5 777.0,475.5 768.5,484.0" fill="#b4cbea"/><polygon points="777.0,475.5 777.0,484.0 768.5,484.0" fill="#b4cbea"/>
<polygon points="777.0,475.5 785.5,475.5 777.0,484.0" fill="#eeeff4"/><polygon points="785.5,475.5 785.5,484.0 777.0,484.0" fill="#5a8dd8"/>
<polygon points="785.5,475.5 794.0,475.5 785.5,484.0" fill="#eeeff4"/><polygon points="794.0,475.5 794.0,484.0 785.5,484.0" fill="#eeeff4"/>
<polygon points="726,484.0 734.5,484.0 726,492.5" fill="#eeeff4"/><polygon points="734.5,484.0 734.5,492.5 726,492.5" fill="#b4cbea"/>
<polygon points="734.5,484.0 743.0,484.0 734.5,492.5" fill="#e9d39e"/><polygon points="743.0,484.0 743.0,492.5 734.5,492.5" fill="#b4cbea"/>
<polygon points="743.0,484.0 751.5,484.0 751.5,492.5" fill="#5a8dd8"/><polygon points="743.0,484.0 751.5,492.5 743.0,492.5" fill="#e9d39e"/>
<polygon points="751.5,484.0 760.0,484.0 760.0,492.5" fill="#b4cbea"/><polygon points="751.5,484.0 760.0,492.5 751.5,492.5" fill="#e9d39e"/>
<polygon points="760.0,484.0 768.5,484.0 768.5,492.5" fill="#d9d9dc"/><polygon points="760.0,484.0 768.5,492.5 760.0,492.5" fill="#e9d39e"/>
<polygon points="768.5,484.0 777.0,484.0 777.0,492.5" fill="#eeeff4"/><polygon points="768.5,484.0 777.0,492.5 768.5,492.5" fill="#e9d39e"/>
<polygon points="777.0,484.0 785.5,484.0 777.0,492.5" fill="#eeeff4"/><polygon points="785.5,484.0 785.5,492.5 777.0,492.5" fill="#eeeff4"/>
<polygon points="785.5,484.0 794.0,484.0 785.5,492.5" fill="#eeeff4"/><polygon points="794.0,484.0 794.0,492.5 785.5,492.5" fill="#5a8dd8"/>
<polygon points="726,492.5 734.5,492.5 726,501.0" fill="#eeeff4"/><polygon points="734.5,492.5 734.5,501.0 726,501.0" fill="#e9d39e"/>
<polygon points="734.5,492.5 743.0,492.5 743.0,501.0" fill="#eeeff4"/><polygon points="734.5,492.5 743.0,501.0 734.5,501.0" fill="#eeeff4"/>
<polygon points="743.0,492.5 751.5,492.5 743.0,501.0" fill="#eeeff4"/><polygon points="751.5,492.5 751.5,501.0 743.0,501.0" fill="#e9d39e"/>
<polygon points="751.5,492.5 760.0,492.5 760.0,501.0" fill="#b4cbea"/><polygon points="751.5,492.5 760.0,501.0 751.5,501.0" fill="#eeeff4"/>
<polygon points="760.0,492.5 768.5,492.5 760.0,501.0" fill="#eeeff4"/><polygon points="768.5,492.5 768.5,501.0 760.0,501.0" fill="#eeeff4"/>
<polygon points="768.5,492.5 777.0,492.5 768.5,501.0" fill="#b4cbea"/><polygon points="777.0,492.5 777.0,501.0 768.5,501.0" fill="#e9d39e"/>
<polygon points="777.0,492.5 785.5,492.5 785.5,501.0" fill="#eeeff4"/><polygon points="777.0,492.5 785.5,501.0 777.0,501.0" fill="#b4cbea"/>
<polygon points="785.5,492.5 794.0,492.5 785.5,501.0" fill="#5a8dd8"/><polygon points="794.0,492.5 794.0,501.0 785.5,501.0" fill="#b4cbea"/>
<polygon points="726,501.0 734.5,501.0 734.5,509.5" fill="#e9d39e"/><polygon points="726,501.0 734.5,509.5 726,509.5" fill="#eeeff4"/>
<polygon points="734.5,501.0 743.0,501.0 734.5,509.5" fill="#d9d9dc"/><polygon points="743.0,501.0 743.0,509.5 734.5,509.5" fill="#b4cbea"/>
<polygon points="743.0,501.0 751.5,501.0 743.0,509.5" fill="#b4cbea"/><polygon points="751.5,501.0 751.5,509.5 743.0,509.5" fill="#e9d39e"/>
<polygon points="751.5,501.0 760.0,501.0 760.0,509.5" fill="#b4cbea"/><polygon points="751.5,501.0 760.0,509.5 751.5,509.5" fill="#d9d9dc"/>
<polygon points="760.0,501.0 768.5,501.0 768.5,509.5" fill="#eeeff4"/><polygon points="760.0,501.0 768.5,509.5 760.0,509.5" fill="#e9d39e"/>
<polygon points="768.5,501.0 777.0,501.0 768.5,509.5" fill="#eeeff4"/><polygon points="777.0,501.0 777.0,509.5 768.5,509.5" fill="#d9d9dc"/>
<polygon points="777.0,501.0 785.5,501.0 777.0,509.5" fill="#b4cbea"/><polygon points="785.5,501.0 785.5,509.5 777.0,509.5" fill="#b4cbea"/>
<polygon points="785.5,501.0 794.0,501.0 794.0,509.5" fill="#eeeff4"/><polygon points="785.5,501.0 794.0,509.5 785.5,509.5" fill="#eeeff4"/>
<polygon points="726,509.5 734.5,509.5 726,518.0" fill="#eeeff4"/><polygon points="734.5,509.5 734.5,518.0 726,518.0" fill="#b4cbea"/>
<polygon points="734.5,509.5 743.0,509.5 734.5,518.0" fill="#e9d39e"/><polygon points="743.0,509.5 743.0,518.0 734.5,518.0" fill="#eeeff4"/>
<polygon points="743.0,509.5 751.5,509.5 743.0,518.0" fill="#eeeff4"/><polygon points="751.5,509.5 751.5,518.0 743.0,518.0" fill="#d9d9dc"/>
<polygon points="751.5,509.5 760.0,509.5 760.0,518.0" fill="#e9d39e"/><polygon points="751.5,509.5 760.0,518.0 751.5,518.0" fill="#b4cbea"/>
<polygon points="760.0,509.5 768.5,509.5 760.0,518.0" fill="#eeeff4"/><polygon points="768.5,509.5 768.5,518.0 760.0,518.0" fill="#e9d39e"/>
<polygon points="768.5,509.5 777.0,509.5 768.5,518.0" fill="#eeeff4"/><polygon points="777.0,509.5 777.0,518.0 768.5,518.0" fill="#eeeff4"/>
<polygon points="777.0,509.5 785.5,509.5 777.0,518.0" fill="#e9d39e"/><polygon points="785.5,509.5 785.5,518.0 777.0,518.0" fill="#e6b65a"/>
<polygon points="785.5,509.5 794.0,509.5 785.5,518.0" fill="#e9d39e"/><polygon points="794.0,509.5 794.0,518.0 785.5,518.0" fill="#eeeff4"/>
<polygon points="726,518.0 734.5,518.0 734.5,519" fill="#e9d39e"/><polygon points="726,518.0 734.5,519 726,519" fill="#b4cbea"/>
<polygon points="734.5,518.0 743.0,518.0 743.0,519" fill="#eeeff4"/><polygon points="734.5,518.0 743.0,519 734.5,519" fill="#eeeff4"/>
<polygon points="743.0,518.0 751.5,518.0 751.5,519" fill="#b4cbea"/><polygon points="743.0,518.0 751.5,519 743.0,519" fill="#eeeff4"/>
<polygon points="751.5,518.0 760.0,518.0 751.5,519" fill="#eeeff4"/><polygon points="760.0,518.0 760.0,519 751.5,519" fill="#eeeff4"/>
<polygon points="760.0,518.0 768.5,518.0 760.0,519" fill="#eeeff4"/><polygon points="768.5,518.0 768.5,519 760.0,519" fill="#b4cbea"/>
<polygon points="768.5,518.0 777.0,518.0 777.0,519" fill="#eeeff4"/><polygon points="768.5,518.0 777.0,519 768.5,519" fill="#d9d9dc"/>
<polygon points="777.0,518.0 785.5,518.0 785.5,519" fill="#d9d9dc"/><polygon points="777.0,518.0 785.5,519 777.0,519" fill="#5a8dd8"/>
<polygon points="785.5,518.0 794.0,518.0 794.0,519" fill="#b4cbea"/><polygon points="785.5,518.0 794.0,519 785.5,519" fill="#e9d39e"/></g>
  <!-- title box -->
  <rect x="43.5" y="92.5" width="482.5" height="22.5" fill="#d8e9f7" stroke="#4858a6" stroke-width="1"/>
  <!-- arrow -->
  <path d="M43.5 127.5 H59.5 V121 L70.5 132.5 L59.5 144 V138 H43.5 Z" fill="#102a8c"/>
  <!-- yellow box -->
  <rect x="70.5" y="122" width="610.5" height="19.5" fill="#fdefd0" stroke="#b8a68c" stroke-width="1"/>
  <!-- chevrons -->
  <rect x="150" y="141.5" width="110" height="84" fill="url(#hatch)"/><rect x="300" y="141.5" width="70" height="5" fill="url(#hatch)"/>
  <path d="M45 147 L81 183.5 L45 220 Z" fill="url(#hatch)" opacity="0.6"/>
  <path d="M45 147 H191 L226 183.5 L191 220 H45 L81 183.5 Z" fill="#1e2a62"/>
  <path d="M211 147 H356 L391 183.5 L356 220 H211 L246 183.5 Z" fill="#1e2a62"/>
  <path d="M376 147 H520 L554.5 183.5 L520 220 H376 L410.5 183.5 Z" fill="#1e2a62"/>
  <path d="M540 147 H684.5 L720.5 183.5 L684.5 220 H540 L575 183.5 Z" fill="#1e2a62"/>
  <!-- table -->
  <rect x="45" y="226" width="139.5" height="153" fill="#f5e4c4"/>
  <rect x="184.5" y="226" width="538" height="20" fill="#f5e4c4"/>
  <rect x="184.5" y="246" width="538" height="133" fill="#fefefe"/>
  <g fill="#4353a6">
    <rect x="44.4" y="225.6" width="678" height="1.3"/><rect x="44.4" y="245.2" width="678" height="1.3"/><rect x="44.4" y="278.5" width="678" height="1.3"/>
    <rect x="44.4" y="312.5" width="678" height="1.3"/><rect x="44.4" y="346" width="678" height="1.3"/><rect x="44.4" y="378" width="678" height="1.4"/>
    <rect x="44.3" y="225.6" width="1.3" height="153.8"/><rect x="183.8" y="225.6" width="1.3" height="153.8"/><rect x="450" y="225.6" width="1.3" height="153.8"/><rect x="721.3" y="225.6" width="1.3" height="153.8"/>
  </g>
  <!-- green box -->
  <rect x="49.5" y="383.5" width="672" height="117.5" fill="#e2f8dc" stroke="#5262ac" stroke-width="1.1"/>
</svg>

<!-- slide texts -->
<div class="a sr" style="left:43px;top:95px;width:483px;text-align:center;font-size:13.2px;line-height:17px;font-weight:bold;color:#1b2a6c">ВИМОГИ ДО ФОРМУЛЮВАННЯ МЕТИ ДИСЦИПЛІНИ</div>
<div class="a sr" style="left:70px;top:124px;width:611px;text-align:center;font-size:11.5px;line-height:15px;font-weight:bold;color:#262a48">Мета дисципліни має бути сформульована&nbsp; в межах предмету та конкретизуватися у завданнях дисципліни</div>

<div class="a c" style="left:81px;top:177px;width:110px;font-size:10.2px;line-height:12.4px;font-weight:bold;color:#fff">Мета дисципліни</div>
<div class="a c" style="left:246px;top:177px;width:110px;font-size:10.2px;line-height:12.4px;font-weight:bold;color:#fff">визначає завдання,</div>
<div class="a c" style="left:410px;top:165px;width:110px;font-size:10.2px;line-height:12.4px;font-weight:bold;color:#fff;white-space:normal">що конкретизуються<br>в результатах<br>навчання,</div>
<div class="a c" style="left:575px;top:165px;width:110px;font-size:10.2px;line-height:12.4px;font-weight:bold;color:#fff;white-space:normal">які реалізуються<br>через зміст<br>дисципліни</div>

<div class="a sr c" style="left:45px;top:229px;width:139px;font-size:11.3px;line-height:14px;font-weight:bold;color:#1f2e8a">Компонент</div>
<div class="a sr c" style="left:184px;top:229px;width:266px;font-size:11.3px;line-height:14px;font-weight:bold;color:#1f2e8a">Функція</div>
<div class="a sr c" style="left:450px;top:229px;width:272px;font-size:11.3px;line-height:14px;font-weight:bold;color:#1f2e8a">Взаємозв’язок</div>

<div class="a sr c" style="left:45px;top:256px;width:139px;font-size:11.5px;line-height:14px;font-weight:bold;color:#1f2e8a">Мета дисципліни</div>
<div class="a sr c" style="left:45px;top:289.5px;width:139px;font-size:11.5px;line-height:14px;font-weight:bold;color:#1f2e8a">Завдання дисципліни</div>
<div class="a sr c" style="left:45px;top:324px;width:139px;font-size:11.5px;line-height:14px;font-weight:bold;color:#1f2e8a">Результати навчання</div>
<div class="a sr c" style="left:45px;top:356px;width:139px;font-size:11.5px;line-height:14px;font-weight:bold;color:#1f2e8a">Зміст дисципліни</div>

<div class="a sr c" style="left:184px;top:256px;width:266px;font-size:11.5px;line-height:14px;font-weight:bold;color:#1f2e8a">Визначає стратегічний освітній результат</div>
<div class="a sr c" style="left:184px;top:289.5px;width:266px;font-size:11.5px;line-height:14px;font-weight:bold;color:#1f2e8a">Конкретизують напрями досягнення мети</div>
<div class="a sr c" style="left:184px;top:316.5px;width:266px;font-size:11.5px;line-height:14.6px;font-weight:bold;color:#1f2e8a">Описують вимірювані досягнення здобувача<br>освіти</div>
<div class="a sr c" style="left:184px;top:356px;width:266px;font-size:11.5px;line-height:14px;font-weight:bold;color:#1f2e8a">Реалізує мету, завдання й результати</div>

<div class="a sr c" style="left:450px;top:249.5px;width:272px;font-size:11.5px;line-height:14px;font-weight:bold;color:#1f2e8a">Є основою для формування завдань і результатів<br>навчання</div>
<div class="a sr c" style="left:450px;top:283px;width:272px;font-size:11.5px;line-height:14px;font-weight:bold;color:#1f2e8a">Визначаються із мети та деталізуються в<br>результатах навчання</div>
<div class="a sr c" style="left:450px;top:323.5px;width:272px;font-size:11.5px;line-height:14px;font-weight:bold;color:#1f2e8a">Узгоджують завдання зі змістом і оцінюванням</div>
<div class="a sr c" style="left:450px;top:356px;width:272px;font-size:11.5px;line-height:14px;font-weight:bold;color:#1f2e8a">Добирається відповідно до результатів навчання</div>

<div class="a sr" style="left:320px;top:387.7px;font-size:13.2px;line-height:16px;font-weight:bold;color:#1f2a7c">Логіка взаємозв’язку:</div>
<div class="a sr" style="left:56px;top:403px;width:660px;font-size:13.2px;line-height:16px;color:#2b3b9a;white-space:normal;text-align:justify">
<span style="color:#d01c1c;font-weight:bold">•Мета</span> <span class="ar">→</span> визначає загальний освітній результат<br>
<span style="color:#d01c1c;font-weight:bold">•Завдання</span> <span class="ar">→</span> конкретизують шляхи досягнення мети<br>
<span style="display:block;text-align:justify;text-align-last:justify"><span style="color:#d01c1c;font-weight:bold">•Результати навчання</span> <span class="ar">→</span> фіксують вимірювані досягнення (є дескрипторами компетентностей і ПРН – більш</span>деталізовано конкретизують досягнення з врахуванням особливостей ОК)<br>
<span style="display:block;text-align:justify;text-align-last:justify"><span style="color:#d01c1c;font-weight:bold">•Зміст</span> <span class="ar">→</span> забезпечує досягнення результатів навчання (компетентностей, ПРН визначених робочою програмою</span>дисципліни через навчальний матеріал та завдання)
</div>

<!-- scroll handle -->
<div class="a" style="left:797px;top:282px;width:2.5px;height:28px;background:#8a8a8c;border-radius:1px"></div>

<!-- video tile -->
<svg class="a" style="left:802px;top:241px" width="198" height="112" viewBox="0 0 198 112">
  <defs>
    <filter id="bl" x="-5%" y="-5%" width="110%" height="110%"><feGaussianBlur stdDeviation="1"/></filter><filter id="bl2"><feGaussianBlur stdDeviation="0.45"/></filter>
    <linearGradient id="hairg" x1="0" y1="0" x2="1" y2="0">
      <stop offset="0" stop-color="#6e5a4c"/><stop offset="0.3" stop-color="#9a8270"/><stop offset="0.7" stop-color="#8a7262"/><stop offset="1" stop-color="#a89080"/>
    </linearGradient>
    <linearGradient id="hairv" x1="0" y1="0" x2="0" y2="1"><stop offset="0" stop-color="#58483e"/><stop offset="0.5" stop-color="#786454"/><stop offset="1" stop-color="#a48a70"/></linearGradient>
    <radialGradient id="faceg" cx="0.5" cy="0.45" r="0.6">
      <stop offset="0" stop-color="#d8b0a0"/><stop offset="1" stop-color="#b88a78"/>
    </radialGradient>
  </defs>
  <rect width="198" height="112" fill="#fcfcfd"/>
  <g filter="url(#bl)">
  <path d="M-2 -2 H91 L31 114 H-2 Z" fill="#2a2a5c"/>
  <path d="M77 0 L49 63" stroke="#55558a" stroke-width="0.7"/>
  <!-- sweater -->
  <path d="M33 113 L47 95 Q56 83 72 77.5 Q84 76 98 77 L124 77 Q140 75.5 152 78 Q170 84 184 98 L194 113 Z" fill="#2a2327"/>
  <!-- hair -->
  <path d="M97.6 83.4 Q90 83 85.5 75 Q82.5 68 83 62.4 Q83 52 84.9 45.8 Q87 36 91.3 30.5 Q99 21 110.4 21 Q121 21 126.9 28 Q131 33 133.3 39.5 Q135.5 47 135.8 56 Q137 64 137 71.3 Q137 80 135.8 85.3 Q134 89 130.7 89 Q127 86 126 78 L125 50 L93 50 Q92.5 72 97.6 83.4 Z" fill="url(#hairv)"/>
  <path d="M85.5 74 Q83 66 83.5 58 Q84 45 88 36 Q92 29 97 25 Q91 36 90 48 Q89 62 91 72 Q93 79 97 83 Q89 81 85.5 74 Z" fill="#4a3c34" opacity="0.45"/>
  <path d="M131 36 Q135 46 135.5 58 Q136.5 72 135 85 Q132 78 131.5 66 Q131 50 128 40 Z" fill="#b09a86" opacity="0.5"/>
  <!-- face -->
  <path d="M92.5 45 Q92 34 109 33 Q126 34 125.6 45 L125.6 60 Q125 72 118 78 Q112.5 81 109 80.5 Q104 80.5 100 77 Q93 71 92.5 60 Z" fill="#cba391"/>
  <ellipse cx="109" cy="42" rx="12" ry="6" fill="#d8b4a4" opacity="0.6"/>
  <!-- bangs -->
  <path d="M90.5 42 Q91 27 110 23.5 Q129 26 127 42 Q122 40 118 40 Q114 34.5 110 34.5 Q105 35 101 40 Q96 40.5 90.5 42 Z" fill="#6a584c"/>
  <path d="M104 25 Q100 32 98 40 M110 24 Q108 30 107 36 M116 25 Q119 32 121 40" stroke="#54443a" stroke-width="1" fill="none" opacity="0.6"/>
  <!-- features -->
  <ellipse cx="102" cy="46.8" rx="3.3" ry="1.5" fill="#5a4646" opacity="0.7"/>
  <ellipse cx="118.6" cy="46.8" rx="3.3" ry="1.5" fill="#5a4646" opacity="0.7"/>
  <path d="M109.5 50 Q108.5 55 108.5 58 Q110 59.5 112.5 58.3" stroke="#a88070" stroke-width="0.8" fill="none"/>
  <ellipse cx="109.5" cy="65.5" rx="5.5" ry="2" fill="#7a4a4a" opacity="0.75"/>
  <ellipse cx="99" cy="60" rx="4" ry="3" fill="#d8a090" opacity="0.4"/><ellipse cx="120" cy="60" rx="4" ry="3" fill="#d8a090" opacity="0.4"/>
  </g>
  <!-- logo -->
  <g filter="url(#bl2)">
  <circle cx="171.5" cy="28" r="18.6" fill="none" stroke="#3a3c98" stroke-width="2.8" stroke-dasharray="1.2 0.7" opacity="0.75"/>
  <path d="M160 42 A18.6 18.6 0 0 0 183 42" stroke="#fff" stroke-width="4" fill="none"/>
  <circle cx="171.5" cy="28.3" r="15.5" fill="#2f3292"/>
  <path d="M159 21 Q171 13 184 21 M157.5 27 H185.5 M163 15 Q160 28 163 41 M171.5 13 V43 M180 15 Q183 28 180 41" stroke="#6a78d0" stroke-width="0.7" fill="none"/>
  <path d="M156 32 Q165 27 187 27 Q176 34 160 34.5 Z" fill="#fff"/>
  <path d="M161 16 Q166 25 173 30" stroke="#e0e8ff" stroke-width="0.9" fill="none"/>
  <text x="162.5" y="19.5" font-size="5" fill="#d0a850" font-family="Liberation Sans" font-weight="bold">ХАІ</text>
  <text x="172" y="40.5" font-size="4.5" fill="#d0a850" font-family="Liberation Sans" font-weight="bold">АЕ</text>
  </g>
  <!-- name label -->
  <rect x="0" y="100" width="81" height="12" fill="#202030" opacity="0.6"/>
  <rect x="4" y="107" width="1.5" height="3.5" fill="#fff"/><rect x="6.3" y="105.5" width="1.5" height="5" fill="#fff"/><rect x="8.6" y="104" width="1.5" height="6.5" fill="#fff"/><rect x="10.9" y="102.5" width="1.5" height="8" fill="#fff"/>
  <!-- manycam -->
  <circle cx="84" cy="100.5" r="4.6" fill="#2b2428" stroke="#f0f0f0" stroke-width="1"/>
  <path d="M81.5 99 Q84 97 86.5 100 Q84 103.5 82 102" stroke="#f0f0f0" stroke-width="1" fill="none"/>
</svg>
<div class="a" style="left:818.5px;top:342.5px;font-size:8.3px;line-height:11px;color:#f4f4f4;letter-spacing:0.1px">Ірина&nbsp; Андрощук</div>
<div class="a" style="left:893.5px;top:336.5px;font-size:8px;line-height:10px;color:#fff;letter-spacing:-0.2px"><b>many</b>cam</div>

<!-- zoom toolbar -->
<div class="a" style="left:0;top:558px;width:1004px;height:38px;background:#000"></div>
<div class="a tb" style="left:14px;top:583.8px;width:40px;line-height:9px">Audio</div>
<div class="a tb" style="left:75px;top:583.8px;width:40px;line-height:9px">Video</div>
<div class="a tb" style="left:265px;top:583.8px;width:60px;line-height:9px">Participants</div>
<div class="a tb" style="left:347px;top:583.8px;width:40px;line-height:9px">Chat</div>
<div class="a tb" style="left:403px;top:583.8px;width:40px;line-height:9px">React</div>
<div class="a tb" style="left:461px;top:583.8px;width:40px;line-height:9px">Share</div>
<div class="a tb" style="left:509px;top:583.8px;width:60px;line-height:9px">Host tools</div>
<div class="a tb" style="left:561px;top:583.8px;width:70px;line-height:9px">AI Companion</div>
<div class="a tb" style="left:633px;top:583.8px;width:40px;line-height:9px">Apps</div>
<div class="a tb" style="left:672px;top:583.6px;width:100px;line-height:9px;font-weight:normal;font-size:8px;color:#a8a8a8;-webkit-text-stroke:0.2px #a0a0a0">Pause/stop recording</div>
<div class="a tb" style="left:773px;top:583.8px;width:40px;line-height:9px">More</div>
<div class="a tb" style="left:952px;top:583.8px;width:40px;line-height:9px">End</div>
<div class="a" style="left:304.8px;top:567px;font-size:7px;line-height:8px;color:#b8b8b8">100</div>
<svg class="a" style="left:0;top:558px" width="1004" height="38">
  <g stroke="#e8e8e8" stroke-width="1.1" fill="none">
    <!-- mic -->
    <rect x="31.5" y="7" width="5.5" height="10" rx="2.75"/>
    <path d="M29 13 Q29 20 34.2 20 Q39.5 20 39.5 13 M34.2 20 V23 M31 23 H37.5"/>
    <!-- carets -->
    <path d="M52.5 16 L54.7 13.8 L57 16 M116.5 16 L118.7 13.8 L121 16 M326.9 16 L329.2 13.8 L331.5 16 M386 16 L388.2 13.8 L390.5 16 M438.2 16 L440.5 13.8 L442.8 16 M502.8 16 L505 13.8 L507.3 16 M669.6 16 L671.8 13.8 L674 16"/>
    <!-- video -->
    <rect x="87" y="10.5" width="11" height="8.5" rx="2"/>
    <path d="M98 13.5 L103 11 V18.5 L98 16"/>
    <!-- participants -->
    <circle cx="292" cy="11.5" r="2.3"/><path d="M288.5 20 Q288.5 15.5 292 15.5 Q295.5 15.5 295.5 20 Z"/>
    <circle cx="297.5" cy="13" r="2"/><path d="M295.5 20 Q296 16.5 298 16.5 Q301 16.5 301 20 Z"/>
    <!-- chat -->
    <path d="M362 9 H372 Q374 9 374 11 V16 Q374 18 372 18"/>
    <rect x="359" y="11.5" width="12" height="9" rx="4"/><path d="M362 20.5 L361 23 L365 20.5"/>
    <!-- heart -->
    <path d="M422.8 21 L416 14.5 Q413.5 11.5 416 9 Q419 7 422.8 10.5 Q426.6 7 429.6 9 Q432 11.5 429.6 14.5 Z"/>
    <!-- apps -->
    <path d="M646 13 V10 Q646 8 648 8 H651 M646 17 V20 Q646 22 648 22 H651"/>
    <circle cx="657" cy="11" r="2.8"/><circle cx="649" cy="19" r="2.8"/>
    <path d="M660.5 17 V20 Q660.5 22 658.5 22 H655.5"/>
    <!-- more -->
    <circle cx="793.2" cy="14.8" r="7.8"/>
    <!-- pause/stop -->
    <rect x="707" y="7.5" width="15" height="14" rx="3.5" stroke-width="1.3"/>
    <rect x="724" y="7.5" width="15" height="14" rx="3.5" stroke-width="1.3"/>
    <!-- host shield -->
    <path d="M539.5 8.8 Q543 9.3 545.8 10.8 V15 Q545.5 19.3 539.5 21.5 Q533.5 19.3 533.2 15 V10.8 Q536 9.3 539.5 8.8 Z"/>
  </g>
  <path d="M26.5 22 L42 7" stroke="#e8265a" stroke-width="1.6"/>
  <circle cx="789.7" cy="14.8" r="1.05" fill="#e8e8e8"/><circle cx="793.2" cy="14.8" r="1.05" fill="#e8e8e8"/><circle cx="796.7" cy="14.8" r="1.05" fill="#e8e8e8"/>
  <circle cx="363.5" cy="16" r="0.7" fill="#e8e8e8"/><circle cx="365.5" cy="16" r="0.7" fill="#e8e8e8"/><circle cx="367.5" cy="16" r="0.7" fill="#e8e8e8"/>
  <rect x="712.2" y="12" width="2" height="5.2" fill="#e8e8e8"/><rect x="715.6" y="12" width="2" height="5.2" fill="#e8e8e8"/>
  <rect x="728.5" y="11.5" width="6" height="6" rx="1" fill="#e8e8e8"/>
  <path d="M535.5 11.8 Q537.5 10.8 539.5 10.6 V15 H535.5 Z M539.5 15 H543.6 Q543.3 18 539.5 19.6 Z" fill="#e8e8e8"/>
  <!-- share -->
  <rect x="473" y="8.2" width="16" height="13.2" rx="2.5" fill="#1ee486"/>
  <path d="M481 18.5 V11.5 M477.8 14.5 L481 11.3 L484.2 14.5" stroke="#000" stroke-width="1.6" fill="none"/>
  <!-- sparkle -->
  <path d="M595.5 8 Q596.5 15 602.5 16 Q596.5 17 595.5 23.5 Q594.5 17 588.5 16 Q594.5 15 595.5 8 Z" fill="#a8e4f8"/>
  <path d="M601.5 5.5 Q601.8 7.4 603.6 7.7 Q601.8 8 601.5 9.9 Q601.2 8 599.4 7.7 Q601.2 7.4 601.5 5.5 Z" fill="#a8e4f8"/>
  <!-- end -->
  <path d="M968.2 8 H976.4 L980.3 14.5 L976.4 21.2 H968.2 L964.3 14.5 Z" fill="#000" stroke="#c8104a" stroke-width="1.5"/>
  <path d="M970 12.2 L974.6 16.8 M974.6 12.2 L970 16.8" stroke="#fff" stroke-width="1.9"/>
</svg>

<!-- taskbar -->
<div class="a" style="left:0;top:596px;width:1004px;height:32px;background:linear-gradient(90deg,#dfe8d6 0%,#ebe9d2 5%,#efe0d8 9%,#f1e2d8 25%,#f1e3d8 45%,#efe6cc 58%,#ecebbb 67%,#e7e9a8 72%,#ebdcca 79%,#f1e4d2 87%,#f3ead2 100%)"></div>
<div class="a" style="left:33.5px;top:603px;font-size:7.8px;line-height:9px;color:#2a2a2a">Rain/snow ahead</div>
<div class="a" style="left:33.5px;top:613px;font-size:7.8px;line-height:9px;color:#444">-3°C</div>
<div class="a" style="left:316.5px;top:603px;width:141.5px;height:19.5px;background:#fcf8f4;border-radius:10px;border:0.5px solid #e0d8d0"></div>
<div class="a" style="left:339.5px;top:607.5px;font-size:8.5px;line-height:10px;color:#555">Пошук</div>
<div class="a" style="left:875.5px;top:607.5px;font-size:7.5px;line-height:10px;color:#333">УКР</div>
<div class="a" style="left:972px;top:602.5px;font-size:7.5px;line-height:9px;color:#222">15:05</div>
<div class="a" style="left:953.5px;top:612.5px;font-size:7.5px;line-height:9px;color:#222">07.01.2026</div>
<svg class="a" style="left:0;top:596px" width="1004" height="32">
  <!-- weather -->
  <path d="M13 15 Q14 9 20.5 9 Q27 9 28 15 Z" fill="#3aa0e8"/>
  <path d="M20.5 15 V21 Q20.5 23 18.5 23 Q17 23 17 21.5" stroke="#555" stroke-width="1.1" fill="none"/>
  <circle cx="24" cy="7" r="0.8" fill="#3aa0e8"/><circle cx="27" cy="9" r="0.8" fill="#3aa0e8"/><circle cx="26" cy="5.5" r="0.7" fill="#3aa0e8"/>
  <!-- windows -->
  <defs><linearGradient id="wg" x1="0" y1="0" x2="1" y2="1"><stop offset="0" stop-color="#5ad0ff"/><stop offset="1" stop-color="#0a70d0"/></linearGradient></defs>
  <g fill="url(#wg)"><rect x="292" y="9.3" width="7" height="7"/><rect x="299.8" y="9.3" width="7" height="7"/>
  <rect x="292" y="17.2" width="7" height="7"/><rect x="299.8" y="17.2" width="7" height="7"/></g>
  <!-- search icon -->
  <circle cx="327.5" cy="14.5" r="3.5" stroke="#333" stroke-width="1.3" fill="none"/><path d="M330 17 L332.5 19.5" stroke="#333" stroke-width="1.4"/>
  <!-- search doodle -->
  <rect x="423.5" y="8" width="33" height="17.5" rx="8" fill="#b86a3a"/><rect x="426" y="9.5" width="28" height="14.5" rx="6.5" fill="#cfe4f0"/><path d="M428 21 Q432 14 438 17 Q444 13 452 19 L452 22 Q440 24 428 22 Z" fill="#d8885a"/><ellipse cx="441" cy="13.5" rx="4" ry="2.5" fill="#fff" opacity="0.8"/>
  <!-- task view -->
  <rect x="467" y="12" width="10" height="9" fill="#222"/><rect x="472" y="8.5" width="10.5" height="9.5" fill="#e8e8ee" stroke="#ccc" stroke-width="0.5"/>
  <!-- explorer -->
  <path d="M496 10 H502 L504 12 H511.5 V23.5 H496 Z" fill="#e8a818"/><rect x="496" y="13" width="15.8" height="10.8" rx="1" fill="#fcd24a"/><rect x="500" y="20" width="8" height="1.6" fill="#2a6ac8"/>
  <!-- copilot -->
  <path d="M526 21 Q524 14 529 9 Q533 7 536 10 L531 21 Z" fill="#2a8ae8"/><path d="M539.5 11 Q541.5 18 536.5 23 Q532.5 25 529.5 22 L534.5 11 Z" fill="#e85aa8"/>
  <path d="M530 9.5 Q534 8 536.5 10.5 L534 13 Z" fill="#40c0a0"/><path d="M536 22.5 Q532 24 529.5 21.5 L532 19 Z" fill="#f0a030"/>
  <!-- store -->
  <path d="M558 11 Q558 7.5 561.3 7.5 Q564.6 7.5 564.6 11" stroke="#1f3f7a" stroke-width="1.2" fill="none"/>
  <rect x="553.7" y="10.5" width="15.3" height="13.5" rx="2" fill="#1f4a8a"/>
  <rect x="558" y="13.5" width="3" height="3" fill="#f25022"/><rect x="561.5" y="13.5" width="3" height="3" fill="#7fba00"/><rect x="558" y="17" width="3" height="3" fill="#00a4ef"/><rect x="561.5" y="17" width="3" height="3" fill="#ffb900"/>
  <!-- firefox -->
  <circle cx="590.2" cy="16.2" r="7.5" fill="#f4701e"/><circle cx="590.8" cy="17" r="4.3" fill="#9a3ad0"/><path d="M583 14 Q584.5 8.5 590.5 8.5 Q597 8.8 597.8 15.5 Q595 11.5 590 12.3 Q586 13 585 17 Z" fill="#ffa828"/>
  <rect x="588" y="27" width="4" height="1.3" fill="#777"/>
  <!-- viber -->
  <path d="M612 15.5 Q612 9 619 9 Q626 9 626 15.5 Q626 22 619 22 L616 22 L614.5 24.5 L614.5 21.5 Q612 20 612 15.5 Z" fill="#7d5ae0"/>
  <path d="M616 13.5 Q617 18.5 622 19.5" stroke="#fff" stroke-width="1.6" fill="none"/>
  <rect x="619.2" y="4.7" width="11" height="10.5" rx="5" fill="#e8303a"/>
  <text x="624.7" y="11.8" font-size="5" fill="#fff" text-anchor="middle" font-family="Liberation Sans">100</text>
  <rect x="616.5" y="27" width="4" height="1.3" fill="#777"/>
  <!-- floppy -->
  <rect x="640" y="9.5" width="15.3" height="15" rx="1.5" fill="#2a4a9a"/><rect x="642" y="16.3" width="11.3" height="7.5" fill="#f8dce4"/><rect x="643.5" y="9.5" width="8" height="4.8" fill="#e8eaf4"/><rect x="648.5" y="10.3" width="1.8" height="3" fill="#2a4a9a"/>
  <rect x="645.5" y="27" width="4" height="1.3" fill="#777"/>
  <!-- word -->
  <rect x="673" y="9.5" width="11.3" height="14.5" rx="1.5" fill="#5a8ad8"/><rect x="669" y="12" width="9.5" height="9.5" rx="1" fill="#1a4aa0"/>
  <path d="M670.5 14 L672 19.5 L673.7 15.5 L675.4 19.5 L677 14" stroke="#fff" stroke-width="0.9" fill="none"/>
  <rect x="674.5" y="27" width="4" height="1.3" fill="#777"/>
  <!-- zoom app -->
  <rect x="692.7" y="3.8" width="23" height="24" rx="3" fill="#f4f2dc" opacity="0.9"/>
  <circle cx="705.3" cy="16.1" r="8.1" fill="#0b5cff"/>
  <text x="705.3" y="17.3" font-size="3.6" fill="#fff" text-anchor="middle" font-family="Liberation Sans" font-weight="bold">zoom</text>
  <rect x="700.3" y="26.7" width="10.1" height="1.5" rx="0.7" fill="#0b5cff"/>
  <!-- tray -->
  <path d="M791 17.5 L794.3 14.3 L797.6 17.5" stroke="#333" stroke-width="1" fill="none"/>
  <path d="M811 16 A5 5 0 0 1 820 13 M819 18 A5 5 0 0 1 810 19" stroke="#555" stroke-width="1.2" fill="none"/><circle cx="818" cy="20" r="2.5" fill="#1a70e0"/>
  <path d="M831 19 Q830 13 836 12.5 Q841 12.5 841.5 17 Q842 19 840 19 Z" stroke="#555" stroke-width="1" fill="none"/><circle cx="838.5" cy="19" r="2.8" fill="#1a70e0"/>
  <path d="M852 10 V18 M850 15 Q852 19 854 15" stroke="#4a7ad8" stroke-width="1.3" fill="none"/><path d="M856 18 L863 12 L860.5 20 L859 17 Z" stroke="#4a7ad8" stroke-width="1" fill="none"/>
  <path d="M900.5 12.8 Q906.3 7.5 912 12.8 M902.3 14.8 Q906.3 11.2 910.3 14.8 M904 16.7 Q906.3 14.8 908.6 16.7" stroke="#444" stroke-width="1" fill="none"/><circle cx="906.3" cy="18.6" r="1" fill="#444"/>
  <path d="M917.5 14 H919.5 L922.5 11 V21 L919.5 18 H917.5 Z" fill="none" stroke="#444" stroke-width="0.9"/><path d="M924.3 13.5 Q925.8 16 924.3 18.5 M926 12 Q928.5 16 926 20" stroke="#444" stroke-width="0.8" fill="none"/>
  <rect x="932.5" y="13" width="9.5" height="6" rx="1" stroke="#333" stroke-width="1" fill="none"/><rect x="934" y="14.5" width="6.5" height="3" fill="#333"/><rect x="942.3" y="15" width="1.3" height="2" fill="#333"/>
</svg>
</body></html>
